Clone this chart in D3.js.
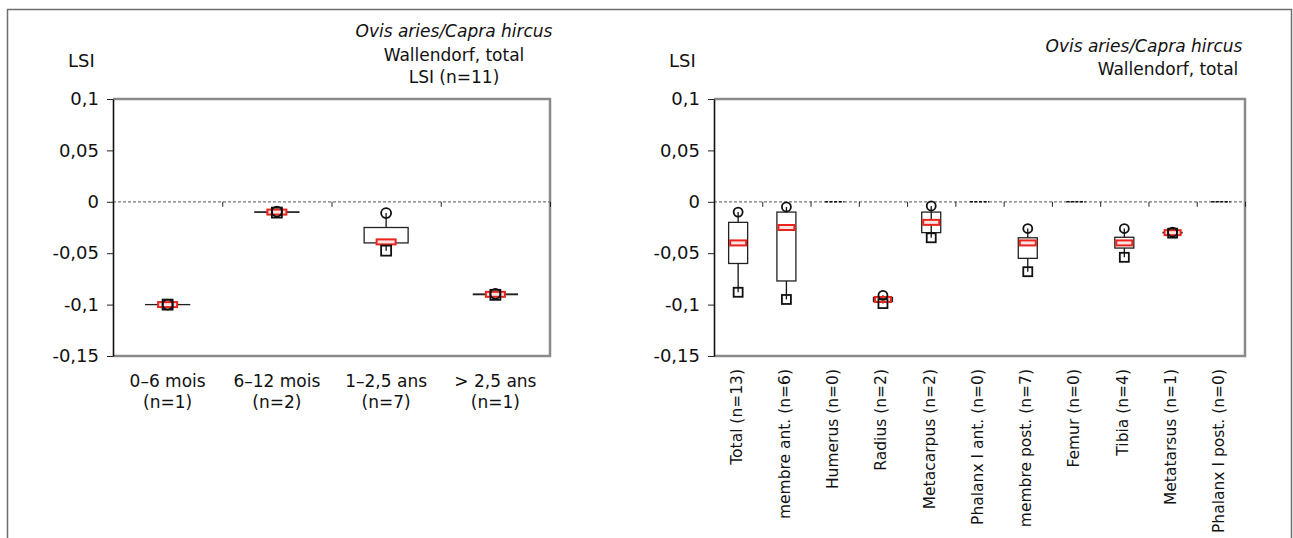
<!DOCTYPE html>
<html>
<head>
<meta charset="utf-8">
<script src="https://cdn.jsdelivr.net/npm/d3@7"></script>
<style>
  body { margin: 0; background: #fff; }
  svg text { font-family: "DejaVu Sans", Verdana, sans-serif; fill: #111; }
</style>
</head>
<body>
<div id="chart"></div>
<script>
// ---- data ----
var ageClasses = ["0–6 mois", "6–12 mois", "1–2,5 ans", "> 2,5 ans"];
var ageN = [1, 2, 7, 1];
var ageMax    = [-0.1, -0.0095, -0.011, -0.0895];
var ageQ3     = [-0.1, -0.0098, -0.025, -0.0897];
var ageMedian = [-0.1, -0.01,   -0.039, -0.09];
var ageQ1     = [-0.1, -0.0102, -0.04,  -0.0903];
var ageMin    = [-0.1, -0.0105, -0.0475, -0.0905];

var bones = ["Total", "membre ant.", "Humerus", "Radius", "Metacarpus", "Phalanx I ant.",
             "membre post.", "Femur", "Tibia", "Metatarsus", "Phalanx I post."];
var boneN = [13, 6, 0, 2, 2, 0, 7, 0, 4, 1, 0];
var boneMax    = [-0.01,  -0.005, null, -0.091, -0.004, null, -0.026, null, -0.026,  -0.0295, null];
var boneQ3     = [-0.02,  -0.01,  null, -0.093, -0.01,  null, -0.035, null, -0.0345, -0.0298, null];
var boneMedian = [-0.04,  -0.025, null, -0.095, -0.02,  null, -0.04,  null, -0.04,   -0.03,   null];
var boneQ1     = [-0.06,  -0.077, null, -0.097, -0.03,  null, -0.055, null, -0.045,  -0.0302, null];
var boneMin    = [-0.088, -0.095, null, -0.099, -0.035, null, -0.068, null, -0.054,  -0.0305, null];

var yTicks = [0.1, 0.05, 0, -0.05, -0.1, -0.15];

// ---- svg ----
var svgWidth = 1293, svgHeight = 538;
var svg = d3.select("#chart").append("svg")
    .attr("width", svgWidth)
    .attr("height", svgHeight);

// outer frame
svg.append("rect")
    .attr("x", 7.5).attr("y", 9.5)
    .attr("width", 1284).attr("height", 560)
    .attr("fill", "none")
    .attr("stroke", "#6e6e6e")
    .attr("stroke-width", 1.5);

var plotTop = 99, plotBottom = 356;
var y = d3.scaleLinear().domain([-0.15, 0.1]).range([plotBottom, plotTop]);
var fmt = d => String(d).replace(".", ",");

// draws one box-plot panel, returns x scale
function drawPanel(opts) {
    var g = svg.append("g");
    var x = d3.scaleBand().domain(d3.range(opts.cats.length))
        .range([opts.left, opts.right]).padding(0);

    // plot frame (top/right/bottom grey)
    g.append("path")
        .attr("d", `M${opts.left},${plotTop}H${opts.right}V${plotBottom}H${opts.left}`)
        .attr("fill", "none")
        .attr("stroke", "#8a8a8a")
        .attr("stroke-width", 2.5);

    // zero line, dashed
    g.append("line")
        .attr("x1", opts.left).attr("x2", opts.right)
        .attr("y1", y(0)).attr("y2", y(0))
        .attr("stroke", "#777")
        .attr("stroke-width", 1.2)
        .attr("stroke-dasharray", "3,2");

    // small ticks between categories on the zero line
    var xi = d3.scaleLinear().domain([0, opts.cats.length]).range([opts.left, opts.right]);
    g.append("g")
        .attr("transform", `translate(0,${y(0)})`)
        .call(d3.axisBottom(xi).tickValues(d3.range(1, opts.cats.length + 1)).tickSize(5).tickFormat(""))
        .call(a => a.select(".domain").remove())
        .call(a => a.selectAll("line").attr("stroke", "#222"));

    // y axis
    var yAxis = g.append("g")
        .attr("transform", `translate(${opts.left},0)`)
        .call(d3.axisLeft(y).tickValues(yTicks).tickFormat(fmt).tickSize(6).tickSizeOuter(0).tickPadding(8));
    yAxis.select(".domain").attr("stroke", "#111").attr("stroke-width", 1.6);
    yAxis.selectAll("line").attr("stroke", "#222");
    yAxis.selectAll("text")
        .style("font-family", "DejaVu Sans")
        .style("font-size", "18px");

    // LSI label
    g.append("text")
        .attr("x", opts.left - 45).attr("y", 67)
        .style("font-size", "18px")
        .text("LSI");

    // boxes
    var bw = opts.boxWidth;
    opts.cats.forEach(function (c, i) {
        var cx = x(i) + x.bandwidth() / 2;
        if (opts.n[i] === 0) {
            // empty class: collapsed box at 0
            g.append("line")
                .attr("x1", cx - bw / 2).attr("x2", cx + bw / 2)
                .attr("y1", y(0)).attr("y2", y(0))
                .attr("stroke", "#111").attr("stroke-width", 1.6)
                .attr("stroke-dasharray", "3,1.5");
            return;
        }
        // whiskers
        g.append("line")
            .attr("x1", cx).attr("x2", cx)
            .attr("y1", y(opts.max[i])).attr("y2", y(opts.min[i]))
            .attr("stroke", "#111").attr("stroke-width", 1.3);
        // box
        g.append("rect")
            .attr("x", cx - bw / 2)
            .attr("y", y(opts.q3[i]))
            .attr("width", bw)
            .attr("height", Math.max(y(opts.q1[i]) - y(opts.q3[i]), 0.01))
            .attr("fill", opts.n[i] > 2 ? "#fff" : "none")
            .attr("stroke", "#222")
            .attr("stroke-width", 1.3);
        // median marker
        g.append("rect")
            .attr("x", cx - opts.medW / 2)
            .attr("y", y(opts.median[i]) - 2.5)
            .attr("width", opts.medW)
            .attr("height", 5)
            .attr("fill", "#fbe3e3")
            .attr("stroke", "#e8241c")
            .attr("stroke-width", 2);
        // max = circle
        g.append("circle")
            .attr("cx", cx).attr("cy", y(opts.max[i]))
            .attr("r", opts.mk / 2)
            .attr("fill", "none")
            .attr("stroke", "#111").attr("stroke-width", 1.8);
        // min = square
        g.append("rect")
            .attr("x", cx - opts.mk / 2).attr("y", y(opts.min[i]) - opts.mk / 2)
            .attr("width", opts.mk).attr("height", opts.mk)
            .attr("fill", "none")
            .attr("stroke", "#111").attr("stroke-width", 1.8);
    });
    return x;
}

// ---- left panel ----
var xLeft = drawPanel({
    cats: ageClasses, n: ageN, max: ageMax, q3: ageQ3, median: ageMedian, q1: ageQ1, min: ageMin,
    left: 113, right: 550, boxWidth: 44, medW: 19, mk: 10
});

var ageLabels = svg.append("g").selectAll("text")
    .data(ageClasses)
    .enter()
    .append("text")
    .attr("text-anchor", "middle")
    .style("font-size", "17px");
ageLabels.append("tspan")
    .attr("x", (d, i) => xLeft(i) + xLeft.bandwidth() / 2)
    .attr("y", 387)
    .text(d => d);
ageLabels.append("tspan")
    .attr("x", (d, i) => xLeft(i) + xLeft.bandwidth() / 2)
    .attr("y", 408)
    .text((d, i) => `(n=${ageN[i]})`);

var leftTitle = svg.append("text")
    .attr("text-anchor", "middle")
    .style("font-size", "17px");
leftTitle.append("tspan").attr("x", 454).attr("y", 37).style("font-style", "italic").text("Ovis aries/Capra hircus");
leftTitle.append("tspan").attr("x", 454).attr("y", 61).text("Wallendorf, total");
leftTitle.append("tspan").attr("x", 454).attr("y", 83).text("LSI (n=11)");

// ---- right panel ----
var xRight = drawPanel({
    cats: bones, n: boneN, max: boneMax, q3: boneQ3, median: boneMedian, q1: boneQ1, min: boneMin,
    left: 714, right: 1245, boxWidth: 19, medW: 16, mk: 9
});

svg.append("g").selectAll("text")
    .data(bones)
    .enter()
    .append("text")
    .attr("transform", (d, i) => `translate(${xRight(i) + xRight.bandwidth() / 2 - 2},369) rotate(-90)`)
    .attr("text-anchor", "end")
    .attr("dy", "0.35em")
    .style("font-size", "15.5px")
    .text((d, i) => `${d} (n=${boneN[i]})`);

var rightTitle = svg.append("text")
    .attr("text-anchor", "middle")
    .style("font-size", "17px");
rightTitle.append("tspan").attr("x", 1144).attr("y", 52).style("font-style", "italic").text("Ovis aries/Capra hircus");
rightTitle.append("tspan").attr("x", 1168).attr("y", 75).text("Wallendorf, total");
</script>
</body>
</html>
